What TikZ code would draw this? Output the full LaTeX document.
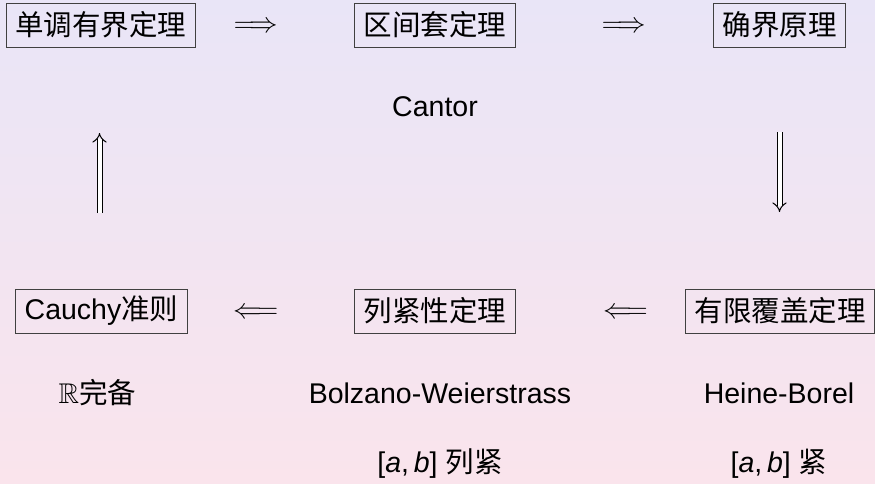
\RequirePackage{fix-cm}
\documentclass[tikz,border=0pt]{standalone}
\usepackage{fontspec}
\usepackage{amssymb}
\setmainfont{Liberation Sans}
\newfontfamily\cjk{Noto Sans CJK SC}
\usetikzlibrary{arrows.meta}
\definecolor{bgtop}{RGB}{233,229,247}
\definecolor{bgbot}{RGB}{250,228,236}
\begin{document}
\begin{tikzpicture}[x=1pt,y=-1pt,
  every node/.style={font=\fontsize{28.5}{34}\selectfont},
  box/.style={draw=black!75, line width=0.9pt, inner xsep=9pt, inner ysep=0pt, minimum height=44pt},
  lbl/.style={inner sep=0pt},
  harr/.style={inner sep=0pt},
  varr/.style={double, double distance=4pt, line width=1pt, -{Implies}}]
\shade[top color=bgtop, bottom color=bgbot] (0,0) rectangle (875,483);
\useasboundingbox (0,0) rectangle (875,483);
% top row
\node[box] (mono) at (101,25) {\cjk 单调有界定理};
\node[box] (nest) at (435,25) {\cjk 区间套定理};
\node[box] (sup)  at (779.5,25) {\cjk 确界原理};
\node[harr] (a1) at (256,27) {$\Longrightarrow$};
\node[harr] (a2) at (624,27) {$\Longrightarrow$};
\node[lbl] (cantor) at (435,107) {Cantor};
% bottom row
\node[box] (cauchy) at (101.5,311) {Cauchy{\cjk 准则}};
\node[box] (bw)     at (435,311) {\cjk 列紧性定理};
\node[box] (hb)     at (780,311) {\cjk 有限覆盖定理};
\node[harr] (a3) at (256,313) {$\Longleftarrow$};
\node[harr] (a4) at (625.5,313) {$\Longleftarrow$};
\node[lbl] (rc)   at (97.5,393) {$\mathbb{R}${\cjk 完备}};
\node[lbl] (bwn)  at (440,393) {Bolzano-Weierstrass};
\node[lbl] (hbn)  at (779,393) {Heine-Borel};
\node[lbl] (seq)  at (440,464) {{[}\textit{a},\,\textit{b}{]} {\cjk 列紧}};
\node[lbl] (cpt)  at (779,464) {{[}\textit{a},\,\textit{b}{]} {\cjk 紧}};
% vertical arrows
\coordinate (l1) at (99.5,213);
\coordinate (l2) at (99.5,133);
\coordinate (r1) at (779.5,132);
\coordinate (r2) at (779.5,212);
\draw[varr] (l1) -- (l2);
\draw[varr] (r1) -- (r2);
\end{tikzpicture}
\end{document}
